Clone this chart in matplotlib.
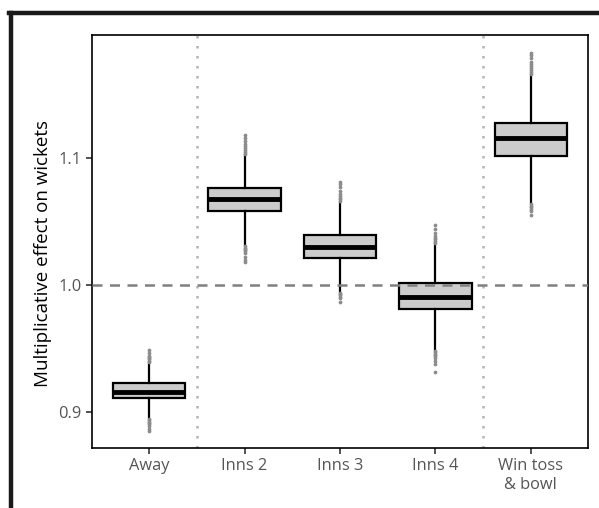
import matplotlib
matplotlib.use("Agg")
import matplotlib.pyplot as plt
from matplotlib.lines import Line2D

plt.rcParams['font.family'] = ['Open Sans', 'DejaVu Sans']

labels = ["Away", "Inns 2", "Inns 3", "Inns 4", "Win toss\n& bowl"]
medians = [0.916, 1.0677, 1.0302, 0.9908, 1.1155]
q1 = [0.9113, 1.0583, 1.0210, 0.9809, 1.1018]
q3 = [0.9230, 1.0761, 1.0394, 1.0018, 1.1273]
whislo = [0.8953, 1.0315, 0.9947, 0.9488, 1.0643]
whishi = [0.9388, 1.1024, 1.0656, 1.0328, 1.1654]

# posterior draws that fall past the whiskers
fliers = [
    [0.8945, 0.8935, 0.8925, 0.8915, 0.8905, 0.8890, 0.8870, 0.8850,
     0.9395, 0.9405, 0.9415, 0.9425, 0.9435, 0.9445, 0.9465, 0.9488],
    [1.0305, 1.0295, 1.0285, 1.0275, 1.0265, 1.0250, 1.0225, 1.0200, 1.0179,
     1.1035, 1.1050, 1.1065, 1.1080, 1.1095, 1.1110, 1.1135, 1.1160, 1.1180],
    [0.9940, 0.9930, 0.9920, 0.9910, 0.9895, 0.9869,
     1.0665, 1.0675, 1.0690, 1.0705, 1.0720, 1.0740, 1.0770, 1.0795, 1.0813],
    [0.9480, 0.9470, 0.9460, 0.9450, 0.9440, 0.9425, 0.9405, 0.9380, 0.9317,
     1.0335, 1.0345, 1.0360, 1.0375, 1.0390, 1.0410, 1.0440, 1.0472],
    [1.0635, 1.0625, 1.0615, 1.0600, 1.0580, 1.0551,
     1.1665, 1.1680, 1.1695, 1.1710, 1.1725, 1.1740, 1.1760, 1.1785, 1.1810, 1.1832],
]

stats = []
for i in range(len(labels)):
    stats.append(dict(med=medians[i], q1=q1[i], q3=q3[i],
                      whislo=whislo[i], whishi=whishi[i], fliers=fliers[i]))

fig = plt.figure(figsize=(5.99, 5.08), dpi=100)
ax = fig.add_axes([0.1536, 0.1181, 0.828, 0.813])

positions = list(range(1, len(labels) + 1))
ax.bxp(stats, positions=positions, widths=0.76, patch_artist=True,
       boxprops=dict(facecolor="#cccccc", edgecolor="black", linewidth=1.6),
       medianprops=dict(color="black", linewidth=3.5),
       whiskerprops=dict(color="black", linewidth=1.6),
       capprops=dict(linewidth=0),
       flierprops=dict(marker="o", markersize=1.7, markerfacecolor="#8c8c8c",
                       markeredgecolor="#8c8c8c", linestyle="none"),
       zorder=3)

# separators between groups of effects
for xv in [1.5, 4.5]:
    ax.axvline(xv, color="#b4b4b4", linestyle=(0, (1, 3)), linewidth=1.8, zorder=1)
ax.axhline(1.0, color="#808080", linestyle=(0, (4, 3)), linewidth=1.8, zorder=4)

ax.set_xlim(0.4, 5.6)
ax.set_ylim(0.8717, 1.197)
ax.set_xticks(positions)
ax.set_xticklabels(labels, linespacing=1.25)
ax.set_yticks([0.9, 1.0, 1.1])
ax.set_yticklabels(["0.9", "1.0", "1.1"])
ax.tick_params(axis="both", colors="#333333", labelcolor="#555555",
               labelsize=11.8, length=4, width=1.2)
for s in ax.spines.values():
    s.set_linewidth(1.2)
    s.set_color("black")
ax.set_ylabel("Multiplicative effect on wickets", fontsize=13.5, color="black")
ax.yaxis.set_label_coords(-0.081, 0.47)

# heavy frame along the top and left edge
fig.add_artist(Line2D([0.0155, 1.0], [0.9744, 0.9744], color="#1a1a1a",
                      linewidth=3.2, transform=fig.transFigure))
fig.add_artist(Line2D([0.0190, 0.0190], [0.0, 0.9744], color="#1a1a1a",
                      linewidth=3.2, transform=fig.transFigure))

fig.savefig("out.png", dpi=100)
